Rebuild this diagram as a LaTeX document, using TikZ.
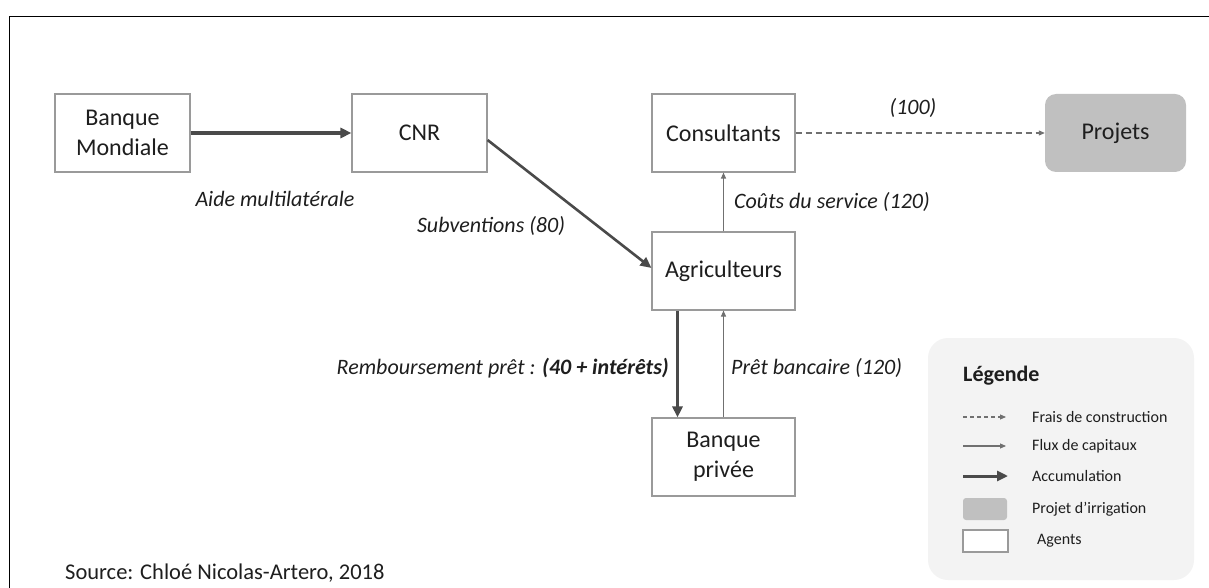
\documentclass[tikz,border=0pt]{standalone}
\usepackage{fontspec}
\setmainfont{Carlito}
\usetikzlibrary{arrows.meta}
\definecolor{cadre}{HTML}{9A9A9A}
\definecolor{fonce}{HTML}{4A4A4A}
\definecolor{moyen}{HTML}{707070}
\definecolor{texte}{HTML}{1E1E1E}
\definecolor{projfill}{HTML}{C0C0C0}
\definecolor{legfill}{HTML}{F3F3F3}
\begin{document}
\begin{tikzpicture}[x=1pt,y=-1pt,
		agent/.style={draw=cadre,line width=1.1pt,fill=white,minimum width=135pt,minimum height=78pt,
			inner sep=0pt,align=center,text=texte,font=\fontsize{24}{30}\selectfont},
		projet/.style={fill=projfill,rounded corners=11pt,minimum width=141pt,minimum height=78pt,
			inner sep=0pt,text=texte,font=\fontsize{24}{30}\selectfont},
		accum/.style={draw=fonce,line width=3.5pt,-{Triangle[length=11pt,width=10pt]}},
		flux/.style={draw=moyen,line width=1.1pt,-{Triangle[length=6pt,width=5pt]}},
		constr/.style={draw=moyen,line width=1.1pt,dash pattern=on 6pt off 4pt,-{Triangle[length=6pt,width=5pt]}},
		etiq/.style={inner sep=0pt,text=texte,font=\fontsize{22}{26}\selectfont\itshape},
		leg/.style={anchor=west,inner sep=0pt,text=texte,font=\fontsize{16}{19}\selectfont}]
		\useasboundingbox (0,0) rectangle (1209,588);
		% cadre
		\draw [line width=1.6pt] (9.5,16.5) rectangle (1230,610);

		% agents
		\node [agent] (bm) at (122.5,133) {Banque\\Mondiale};
		\node [agent] (cnr) at (419.5,133) {CNR};
		\node [agent,minimum width=143pt] (cons) at (723.5,133) {Consultants};
		\node [agent,minimum width=143pt] (agr) at (723.5,271) {Agriculteurs};
		\node [agent,minimum width=143pt] (bp) at (723.5,457) {Banque\\privée};
		\node [projet] (proj) at (1115.5,133) {Projets};

		% flux
		\draw [accum] (bm.east) -- (cnr.west);
		\draw [accum,line width=2.6pt] ([yshift=-7pt]cnr.east) -- ([yshift=3pt]agr.west);
		\draw [flux] (agr.north) -- (cons.south);
		\draw [constr] (cons.east) -- (proj.west);
		\draw [accum,line width=3pt] ([xshift=-46pt]agr.south) -- ([xshift=-46pt]bp.north);
		\draw [flux] (bp.north) -- (agr.south);

		% etiquettes
		\node [etiq] (aide) at (275,199) {Aide multilatérale};
		\node [etiq] (subv) at (491,226) {Subventions (80)};
		\node [etiq] (cent) at (913,108) {(100)};
		\node [etiq,anchor=west] (couts) at (734,202) {Coûts du service (120)};
		\node [etiq,anchor=east] (remb) at (669,368) {Remboursement prêt : \textbf{(40 + intérêts)}};
		\node [etiq,anchor=west] (pret) at (731,368) {Prêt bancaire (120)};
		\node [anchor=west,inner sep=0pt,text=texte,font=\fontsize{22.5}{26}\selectfont] (source) at (65,573)
			{Source: Chloé Nicolas-Artero, 2018};

		% legende
		\draw [fill=legfill,draw=none,rounded corners=20pt] (928,338) rectangle (1194,580);
		\node [anchor=west,inner sep=0pt,text=texte,font=\fontsize{22}{26}\selectfont\bfseries] (legtitre) at (963,376) {Légende};
		\node [leg] (leg1) at (1032,417) {Frais de construction};
		\node [leg] (leg2) at (1032,446) {Flux de capitaux};
		\node [leg] (leg3) at (1032,476) {Accumulation};
		\node [leg] (leg4) at (1032,509) {Projet d’irrigation};
		\node [leg] (leg5) at (1037,541) {Agents};
		\draw [constr,dash pattern=on 4pt off 3pt] ([xshift=-69pt]leg1.west) -- ([xshift=-26pt]leg1.west);
		\draw [flux] ([xshift=-69pt]leg2.west) -- ([xshift=-26pt]leg2.west);
		\draw [accum,line width=3pt] ([xshift=-69pt]leg3.west) -- ([xshift=-24pt]leg3.west);
		\fill [projfill,rounded corners=3pt] ([xshift=-69pt,yshift=11pt]leg4.west) rectangle ([xshift=-25pt,yshift=-11pt]leg4.west);
		\draw [cadre,line width=1.1pt,fill=white] ([xshift=-74pt,yshift=11pt]leg5.west) rectangle ([xshift=-29pt,yshift=-11pt]leg5.west);
	\end{tikzpicture}
\end{document}
